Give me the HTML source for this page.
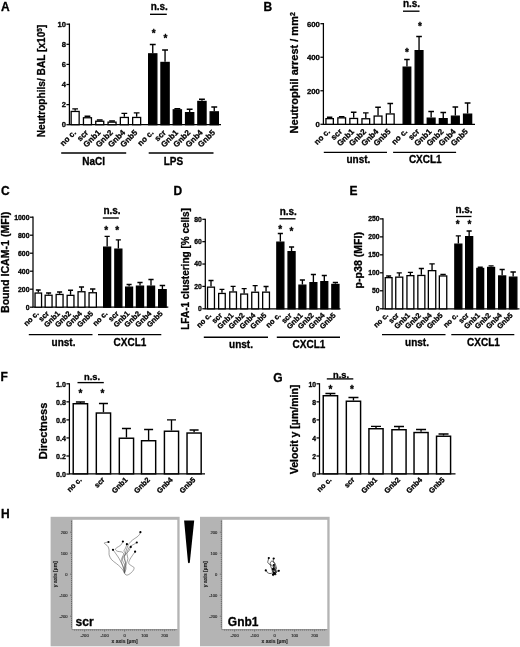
<!DOCTYPE html>
<html lang="en">
<head>
<meta charset="utf-8">
<title>Figure</title>
<style>
html,body{margin:0;padding:0;background:#fff;}
body{width:520px;height:647px;overflow:hidden;}
svg{display:block;}
.t{font-family:"Liberation Sans",Arial,Helvetica,sans-serif;font-weight:bold;fill:#000;stroke:#000;stroke-width:0.3px;stroke-linejoin:round;}
.s{font-family:"Liberation Sans",Arial,Helvetica,sans-serif;fill:#222;stroke:#222;stroke-width:0.12px;}
.ax{stroke:#000;stroke-width:1.25;fill:none;stroke-linecap:butt;}
.gl{stroke:#000;stroke-width:1.35;fill:none;}
.e{stroke:#000;stroke-width:1.35;fill:none;}
</style>
</head>
<body>
<svg width="520" height="647" viewBox="0 0 520 647">
<rect width="520" height="647" fill="#fff"/>
<text x="1" y="11.2" class="t" font-size="12">A</text>
<path d="M69.4 23.6V124.7H221" class="ax"/>
<path d="M66.4 24.2H69.4" class="ax"/>
<text x="65.9" y="26.94" class="t" font-size="7.6" text-anchor="end">10</text>
<path d="M66.4 44.3H69.4" class="ax"/>
<text x="65.9" y="47.04" class="t" font-size="7.6" text-anchor="end">8</text>
<path d="M66.4 64.4H69.4" class="ax"/>
<text x="65.9" y="67.14" class="t" font-size="7.6" text-anchor="end">6</text>
<path d="M66.4 84.5H69.4" class="ax"/>
<text x="65.9" y="87.24" class="t" font-size="7.6" text-anchor="end">4</text>
<path d="M66.4 104.6H69.4" class="ax"/>
<text x="65.9" y="107.34" class="t" font-size="7.6" text-anchor="end">2</text>
<path d="M66.4 124.7H69.4" class="ax"/>
<text x="65.9" y="127.44" class="t" font-size="7.6" text-anchor="end">0</text>
<text transform="translate(44.7 81) rotate(-90)" class="t" font-size="10.15" text-anchor="middle">Neutrophils/ BAL [x10<tspan font-size="6.5" dy="-3.2">5</tspan><tspan dy="3.2">]</tspan></text>
<path d="M75.15 110.8V108.8M72.27 108.8H78.03" class="e"/>
<rect x="71.15" y="111.45" width="8" height="13.25" fill="#fff" stroke="#000" stroke-width="1.3"/>
<path d="M87.45 117.1V116.2M84.57 116.2H90.33" class="e"/>
<rect x="83.45" y="117.75" width="8" height="6.95" fill="#fff" stroke="#000" stroke-width="1.3"/>
<path d="M99.75 120.6V120M96.87 120H102.63" class="e"/>
<rect x="95.75" y="121.25" width="8" height="3.45" fill="#fff" stroke="#000" stroke-width="1.3"/>
<path d="M112.05 121.5V121M109.17 121H114.93" class="e"/>
<rect x="108.05" y="122.15" width="8" height="2.55" fill="#fff" stroke="#000" stroke-width="1.3"/>
<path d="M124.35 116.8V113.4M121.47 113.4H127.23" class="e"/>
<rect x="120.35" y="117.45" width="8" height="7.25" fill="#fff" stroke="#000" stroke-width="1.3"/>
<path d="M136.65 116.8V112.8M133.77 112.8H139.53" class="e"/>
<rect x="132.65" y="117.45" width="8" height="7.25" fill="#fff" stroke="#000" stroke-width="1.3"/>
<path d="M152.75 53.2V44.5M149.81 44.5H155.69" class="e"/>
<rect x="148.65" y="53.85" width="8.2" height="70.85" fill="#000" stroke="#000" stroke-width="1.3"/>
<path d="M165.05 61.8V50M162.11 50H168" class="e"/>
<rect x="160.95" y="62.45" width="8.2" height="62.25" fill="#000" stroke="#000" stroke-width="1.3"/>
<path d="M177.35 109.2V108.7M174.41 108.7H180.29" class="e"/>
<rect x="173.25" y="109.85" width="8.2" height="14.85" fill="#000" stroke="#000" stroke-width="1.3"/>
<path d="M189.65 112V109.2M186.71 109.2H192.59" class="e"/>
<rect x="185.55" y="112.65" width="8.2" height="12.05" fill="#000" stroke="#000" stroke-width="1.3"/>
<path d="M201.95 100.8V99.2M199 99.2H204.89" class="e"/>
<rect x="197.85" y="101.45" width="8.2" height="23.25" fill="#000" stroke="#000" stroke-width="1.3"/>
<path d="M214.25 111.2V107M211.31 107H217.19" class="e"/>
<rect x="210.15" y="111.85" width="8.2" height="12.85" fill="#000" stroke="#000" stroke-width="1.3"/>
<text transform="translate(76.45 133.2) rotate(-45)" class="t" font-size="8" text-anchor="end">no c.</text>
<text transform="translate(88.75 133.2) rotate(-45)" class="t" font-size="8" text-anchor="end">scr</text>
<text transform="translate(101.05 133.2) rotate(-45)" class="t" font-size="8" text-anchor="end">Gnb1</text>
<text transform="translate(113.35 133.2) rotate(-45)" class="t" font-size="8" text-anchor="end">Gnb2</text>
<text transform="translate(125.65 133.2) rotate(-45)" class="t" font-size="8" text-anchor="end">Gnb4</text>
<text transform="translate(137.95 133.2) rotate(-45)" class="t" font-size="8" text-anchor="end">Gnb5</text>
<text transform="translate(154.05 133.2) rotate(-45)" class="t" font-size="8" text-anchor="end">no c.</text>
<text transform="translate(166.35 133.2) rotate(-45)" class="t" font-size="8" text-anchor="end">scr</text>
<text transform="translate(178.65 133.2) rotate(-45)" class="t" font-size="8" text-anchor="end">Gnb1</text>
<text transform="translate(190.95 133.2) rotate(-45)" class="t" font-size="8" text-anchor="end">Gnb2</text>
<text transform="translate(203.25 133.2) rotate(-45)" class="t" font-size="8" text-anchor="end">Gnb4</text>
<text transform="translate(215.55 133.2) rotate(-45)" class="t" font-size="8" text-anchor="end">Gnb5</text>
<path d="M61.2 153H126.2" class="gl"/>
<text x="93.6" y="164.8" class="t" font-size="10" text-anchor="middle">NaCl</text>
<path d="M148.7 153H213.5" class="gl"/>
<text x="173.5" y="164.8" class="t" font-size="10" text-anchor="middle">LPS</text>
<text x="159.3" y="10.2" class="t" font-size="10" text-anchor="middle">n.s.</text>
<path d="M150 14.3H166.8" class="gl"/>
<text x="153.8" y="37" class="t" font-size="10" text-anchor="middle">*</text>
<text x="165.5" y="42" class="t" font-size="10" text-anchor="middle">*</text>
<text x="263.5" y="11" class="t" font-size="12">B</text>
<path d="M323.4 23.1V124.3H475" class="ax"/>
<path d="M320.4 23.7H323.4" class="ax"/>
<text x="319.9" y="26.51" class="t" font-size="7.8" text-anchor="end">600</text>
<path d="M320.4 57.23H323.4" class="ax"/>
<text x="319.9" y="60.04" class="t" font-size="7.8" text-anchor="end">400</text>
<path d="M320.4 90.76H323.4" class="ax"/>
<text x="319.9" y="93.57" class="t" font-size="7.8" text-anchor="end">200</text>
<path d="M320.4 124.29H323.4" class="ax"/>
<text x="319.9" y="127.1" class="t" font-size="7.8" text-anchor="end">0</text>
<text transform="translate(297.8 72.8) rotate(-90)" class="t" font-size="11" text-anchor="middle">Neutrophil arrest / mm<tspan font-size="7" dy="-3.0">2</tspan></text>
<path d="M329.65 118V117.2M326.95 117.2H332.35" class="e"/>
<rect x="325.95" y="118.65" width="7.4" height="5.65" fill="#fff" stroke="#000" stroke-width="1.3"/>
<path d="M341.7 117.2V116.7M338.91 116.7H344.49" class="e"/>
<rect x="337.85" y="117.85" width="7.7" height="6.45" fill="#fff" stroke="#000" stroke-width="1.3"/>
<path d="M353.7 117.8V112.2M350.91 112.2H356.49" class="e"/>
<rect x="349.85" y="118.45" width="7.7" height="5.85" fill="#fff" stroke="#000" stroke-width="1.3"/>
<path d="M365.8 118.1V112.9M363.01 112.9H368.59" class="e"/>
<rect x="361.95" y="118.75" width="7.7" height="5.55" fill="#fff" stroke="#000" stroke-width="1.3"/>
<path d="M378.05 115.4V107.2M375.23 107.2H380.87" class="e"/>
<rect x="374.15" y="116.05" width="7.8" height="8.25" fill="#fff" stroke="#000" stroke-width="1.3"/>
<path d="M390.25 113.3V103.5M387.43 103.5H393.07" class="e"/>
<rect x="386.35" y="113.95" width="7.8" height="10.35" fill="#fff" stroke="#000" stroke-width="1.3"/>
<path d="M406.95 66.5V59.5M404.19 59.5H409.71" class="e"/>
<rect x="403.15" y="67.15" width="7.6" height="57.15" fill="#000" stroke="#000" stroke-width="1.3"/>
<path d="M419.05 50V36.5M416.23 36.5H421.87" class="e"/>
<rect x="415.15" y="50.65" width="7.8" height="73.65" fill="#000" stroke="#000" stroke-width="1.3"/>
<path d="M431.15 117.5V111.5M428.33 111.5H433.97" class="e"/>
<rect x="427.25" y="118.15" width="7.8" height="6.15" fill="#000" stroke="#000" stroke-width="1.3"/>
<path d="M443.25 118V112.5M440.43 112.5H446.07" class="e"/>
<rect x="439.35" y="118.65" width="7.8" height="5.65" fill="#000" stroke="#000" stroke-width="1.3"/>
<path d="M455.35 115.5V107M452.53 107H458.17" class="e"/>
<rect x="451.45" y="116.15" width="7.8" height="8.15" fill="#000" stroke="#000" stroke-width="1.3"/>
<path d="M467.6 113.5V103M464.69 103H470.51" class="e"/>
<rect x="463.55" y="114.15" width="8.1" height="10.15" fill="#000" stroke="#000" stroke-width="1.3"/>
<text transform="translate(330.55 132.1) rotate(-45)" class="t" font-size="8" text-anchor="end">no c.</text>
<text transform="translate(342.6 132.1) rotate(-45)" class="t" font-size="8" text-anchor="end">scr</text>
<text transform="translate(354.6 132.1) rotate(-45)" class="t" font-size="8" text-anchor="end">Gnb1</text>
<text transform="translate(366.7 132.1) rotate(-45)" class="t" font-size="8" text-anchor="end">Gnb2</text>
<text transform="translate(378.95 132.1) rotate(-45)" class="t" font-size="8" text-anchor="end">Gnb4</text>
<text transform="translate(391.15 132.1) rotate(-45)" class="t" font-size="8" text-anchor="end">Gnb5</text>
<text transform="translate(407.85 132.1) rotate(-45)" class="t" font-size="8" text-anchor="end">no c.</text>
<text transform="translate(419.95 132.1) rotate(-45)" class="t" font-size="8" text-anchor="end">scr</text>
<text transform="translate(432.05 132.1) rotate(-45)" class="t" font-size="8" text-anchor="end">Gnb1</text>
<text transform="translate(444.15 132.1) rotate(-45)" class="t" font-size="8" text-anchor="end">Gnb2</text>
<text transform="translate(456.25 132.1) rotate(-45)" class="t" font-size="8" text-anchor="end">Gnb4</text>
<text transform="translate(468.5 132.1) rotate(-45)" class="t" font-size="8" text-anchor="end">Gnb5</text>
<path d="M323.8 152.3H387" class="gl"/>
<text x="358.4" y="163.4" class="t" font-size="10" text-anchor="middle">unst.</text>
<path d="M393.1 152.3H456.1" class="gl"/>
<text x="425.3" y="163.4" class="t" font-size="10" text-anchor="middle">CXCL1</text>
<text x="411.5" y="7" class="t" font-size="10" text-anchor="middle">n.s.</text>
<path d="M403 11.2H419.5" class="gl"/>
<text x="407" y="55.5" class="t" font-size="10" text-anchor="middle">*</text>
<text x="420" y="29.5" class="t" font-size="10" text-anchor="middle">*</text>
<text x="1" y="195.3" class="t" font-size="12">C</text>
<path d="M33 216.6V307.2H168.3" class="ax"/>
<path d="M30 217.2H33" class="ax"/>
<text x="29.5" y="219.68" class="t" font-size="6.9" text-anchor="end">1000</text>
<path d="M30 235.2H33" class="ax"/>
<text x="29.5" y="237.68" class="t" font-size="6.9" text-anchor="end">800</text>
<path d="M30 253.2H33" class="ax"/>
<text x="29.5" y="255.68" class="t" font-size="6.9" text-anchor="end">600</text>
<path d="M30 271.2H33" class="ax"/>
<text x="29.5" y="273.68" class="t" font-size="6.9" text-anchor="end">400</text>
<path d="M30 289.2H33" class="ax"/>
<text x="29.5" y="291.68" class="t" font-size="6.9" text-anchor="end">200</text>
<path d="M30 307.2H33" class="ax"/>
<text x="29.5" y="309.68" class="t" font-size="6.9" text-anchor="end">0</text>
<text transform="translate(8.6 262.4) rotate(-90)" class="t" font-size="10.6" text-anchor="middle">Bound ICAM-1 (MFI)</text>
<path d="M38.3 292.4V290M35.88 290H40.72" class="e"/>
<rect x="35.05" y="293.05" width="6.5" height="14.15" fill="#fff" stroke="#000" stroke-width="1.3"/>
<path d="M48.6 294.6V293M46.06 293H51.14" class="e"/>
<rect x="45.15" y="295.25" width="6.9" height="11.95" fill="#fff" stroke="#000" stroke-width="1.3"/>
<path d="M59.6 293.8V292M57.06 292H62.14" class="e"/>
<rect x="56.15" y="294.45" width="6.9" height="12.75" fill="#fff" stroke="#000" stroke-width="1.3"/>
<path d="M70.55 294.7V290.2M68.04 290.2H73.06" class="e"/>
<rect x="67.15" y="295.35" width="6.8" height="11.85" fill="#fff" stroke="#000" stroke-width="1.3"/>
<path d="M81.5 291.1V287M78.96 287H84.04" class="e"/>
<rect x="78.05" y="291.75" width="6.9" height="15.45" fill="#fff" stroke="#000" stroke-width="1.3"/>
<path d="M92.7 292.1V289M90.03 289H95.37" class="e"/>
<rect x="89.05" y="292.75" width="7.3" height="14.45" fill="#fff" stroke="#000" stroke-width="1.3"/>
<path d="M107.15 246.5V236.3M104.58 236.3H109.72" class="e"/>
<rect x="103.65" y="247.15" width="7" height="60.05" fill="#000" stroke="#000" stroke-width="1.3"/>
<path d="M118.35 248.5V239.8M115.78 239.8H120.92" class="e"/>
<rect x="114.85" y="249.15" width="7" height="58.05" fill="#000" stroke="#000" stroke-width="1.3"/>
<path d="M129.1 286.5V284.5M126.56 284.5H131.64" class="e"/>
<rect x="125.65" y="287.15" width="6.9" height="20.05" fill="#000" stroke="#000" stroke-width="1.3"/>
<path d="M140 285.5V282.5M137.4 282.5H142.6" class="e"/>
<rect x="136.45" y="286.15" width="7.1" height="21.05" fill="#000" stroke="#000" stroke-width="1.3"/>
<path d="M151 285.5V279.5M148.4 279.5H153.6" class="e"/>
<rect x="147.45" y="286.15" width="7.1" height="21.05" fill="#000" stroke="#000" stroke-width="1.3"/>
<path d="M162.4 289V285.5M159.67 285.5H165.13" class="e"/>
<rect x="158.65" y="289.65" width="7.5" height="17.55" fill="#000" stroke="#000" stroke-width="1.3"/>
<text transform="translate(39.2 314.1) rotate(-45)" class="t" font-size="7.5" text-anchor="end">no c.</text>
<text transform="translate(49.5 314.1) rotate(-45)" class="t" font-size="7.5" text-anchor="end">scr</text>
<text transform="translate(60.5 314.1) rotate(-45)" class="t" font-size="7.5" text-anchor="end">Gnb1</text>
<text transform="translate(71.45 314.1) rotate(-45)" class="t" font-size="7.5" text-anchor="end">Gnb2</text>
<text transform="translate(82.4 314.1) rotate(-45)" class="t" font-size="7.5" text-anchor="end">Gnb4</text>
<text transform="translate(93.6 314.1) rotate(-45)" class="t" font-size="7.5" text-anchor="end">Gnb5</text>
<text transform="translate(108.05 314.1) rotate(-45)" class="t" font-size="7.5" text-anchor="end">no c.</text>
<text transform="translate(119.25 314.1) rotate(-45)" class="t" font-size="7.5" text-anchor="end">scr</text>
<text transform="translate(130 314.1) rotate(-45)" class="t" font-size="7.5" text-anchor="end">Gnb1</text>
<text transform="translate(140.9 314.1) rotate(-45)" class="t" font-size="7.5" text-anchor="end">Gnb2</text>
<text transform="translate(151.9 314.1) rotate(-45)" class="t" font-size="7.5" text-anchor="end">Gnb4</text>
<text transform="translate(163.3 314.1) rotate(-45)" class="t" font-size="7.5" text-anchor="end">Gnb5</text>
<path d="M28.8 334.6H92.5" class="gl"/>
<text x="63.5" y="345.7" class="t" font-size="10" text-anchor="middle">unst.</text>
<path d="M98 334.6H161.3" class="gl"/>
<text x="130" y="345.7" class="t" font-size="10" text-anchor="middle">CXCL1</text>
<text x="112" y="214.2" class="t" font-size="10" text-anchor="middle">n.s.</text>
<path d="M102.8 218H118.8" class="gl"/>
<text x="106.3" y="234" class="t" font-size="10" text-anchor="middle">*</text>
<text x="117.2" y="234" class="t" font-size="10" text-anchor="middle">*</text>
<text x="173.5" y="195.3" class="t" font-size="12">D</text>
<path d="M205.3 218.7V308.8H340.5" class="ax"/>
<path d="M202.3 219.3H205.3" class="ax"/>
<text x="201.8" y="221.75" class="t" font-size="6.8" text-anchor="end">80</text>
<path d="M202.3 241.67H205.3" class="ax"/>
<text x="201.8" y="244.12" class="t" font-size="6.8" text-anchor="end">60</text>
<path d="M202.3 264.04H205.3" class="ax"/>
<text x="201.8" y="266.49" class="t" font-size="6.8" text-anchor="end">40</text>
<path d="M202.3 286.41H205.3" class="ax"/>
<text x="201.8" y="288.86" class="t" font-size="6.8" text-anchor="end">20</text>
<path d="M202.3 308.78H205.3" class="ax"/>
<text x="201.8" y="311.23" class="t" font-size="6.8" text-anchor="end">0</text>
<text transform="translate(188.8 268.9) rotate(-90)" class="t" font-size="10" text-anchor="middle">LFA-1 clustering [% cells]</text>
<path d="M211 286.5V280.5M208.46 280.5H213.54" class="e"/>
<rect x="207.55" y="287.15" width="6.9" height="21.65" fill="#fff" stroke="#000" stroke-width="1.3"/>
<path d="M221.95 292.8V289.3M219.5 289.3H224.4" class="e"/>
<rect x="218.65" y="293.45" width="6.6" height="15.35" fill="#fff" stroke="#000" stroke-width="1.3"/>
<path d="M233.1 291.3V286.3M230.62 286.3H235.58" class="e"/>
<rect x="229.75" y="291.95" width="6.7" height="16.85" fill="#fff" stroke="#000" stroke-width="1.3"/>
<path d="M244.15 293.4V288.6M241.64 288.6H246.66" class="e"/>
<rect x="240.75" y="294.05" width="6.8" height="14.75" fill="#fff" stroke="#000" stroke-width="1.3"/>
<path d="M255.15 291.6V285.6M252.64 285.6H257.66" class="e"/>
<rect x="251.75" y="292.25" width="6.8" height="16.55" fill="#fff" stroke="#000" stroke-width="1.3"/>
<path d="M266.05 291.5V286.5M263.54 286.5H268.56" class="e"/>
<rect x="262.65" y="292.15" width="6.8" height="16.65" fill="#fff" stroke="#000" stroke-width="1.3"/>
<path d="M280.35 241.5V233.5M277.78 233.5H282.92" class="e"/>
<rect x="276.85" y="242.15" width="7" height="66.65" fill="#000" stroke="#000" stroke-width="1.3"/>
<path d="M291.55 251V247M288.98 247H294.12" class="e"/>
<rect x="288.05" y="251.65" width="7" height="57.15" fill="#000" stroke="#000" stroke-width="1.3"/>
<path d="M302.4 284.5V280M299.86 280H304.94" class="e"/>
<rect x="298.95" y="285.15" width="6.9" height="23.65" fill="#000" stroke="#000" stroke-width="1.3"/>
<path d="M313.4 282V274.5M310.86 274.5H315.94" class="e"/>
<rect x="309.95" y="282.65" width="6.9" height="26.15" fill="#000" stroke="#000" stroke-width="1.3"/>
<path d="M324.3 281V275.5M321.76 275.5H326.84" class="e"/>
<rect x="320.85" y="281.65" width="6.9" height="27.15" fill="#000" stroke="#000" stroke-width="1.3"/>
<path d="M335.4 283.8V282.5M332.8 282.5H338" class="e"/>
<rect x="331.85" y="284.45" width="7.1" height="24.35" fill="#000" stroke="#000" stroke-width="1.3"/>
<text transform="translate(211.8 315.9) rotate(-45)" class="t" font-size="7.5" text-anchor="end">no c.</text>
<text transform="translate(222.75 315.9) rotate(-45)" class="t" font-size="7.5" text-anchor="end">scr</text>
<text transform="translate(233.9 315.9) rotate(-45)" class="t" font-size="7.5" text-anchor="end">Gnb1</text>
<text transform="translate(244.95 315.9) rotate(-45)" class="t" font-size="7.5" text-anchor="end">Gnb2</text>
<text transform="translate(255.95 315.9) rotate(-45)" class="t" font-size="7.5" text-anchor="end">Gnb4</text>
<text transform="translate(266.85 315.9) rotate(-45)" class="t" font-size="7.5" text-anchor="end">Gnb5</text>
<text transform="translate(281.15 315.9) rotate(-45)" class="t" font-size="7.5" text-anchor="end">no c.</text>
<text transform="translate(292.35 315.9) rotate(-45)" class="t" font-size="7.5" text-anchor="end">scr</text>
<text transform="translate(303.2 315.9) rotate(-45)" class="t" font-size="7.5" text-anchor="end">Gnb1</text>
<text transform="translate(314.2 315.9) rotate(-45)" class="t" font-size="7.5" text-anchor="end">Gnb2</text>
<text transform="translate(325.1 315.9) rotate(-45)" class="t" font-size="7.5" text-anchor="end">Gnb4</text>
<text transform="translate(336.2 315.9) rotate(-45)" class="t" font-size="7.5" text-anchor="end">Gnb5</text>
<path d="M203.8 337.2H268" class="gl"/>
<text x="241" y="348.2" class="t" font-size="10" text-anchor="middle">unst.</text>
<path d="M276.8 337.2H340" class="gl"/>
<text x="309" y="348.2" class="t" font-size="10" text-anchor="middle">CXCL1</text>
<text x="288.3" y="215" class="t" font-size="10" text-anchor="middle">n.s.</text>
<path d="M279.5 218.8H295.5" class="gl"/>
<text x="280.3" y="232.6" class="t" font-size="10" text-anchor="middle">*</text>
<text x="291.5" y="234.8" class="t" font-size="10" text-anchor="middle">*</text>
<text x="349.5" y="195.3" class="t" font-size="12">E</text>
<path d="M383 218.3V308.8H519.5" class="ax"/>
<path d="M380 218.9H383" class="ax"/>
<text x="379.5" y="221.35" class="t" font-size="6.8" text-anchor="end">250</text>
<path d="M380 236.87H383" class="ax"/>
<text x="379.5" y="239.32" class="t" font-size="6.8" text-anchor="end">200</text>
<path d="M380 254.84H383" class="ax"/>
<text x="379.5" y="257.29" class="t" font-size="6.8" text-anchor="end">150</text>
<path d="M380 272.81H383" class="ax"/>
<text x="379.5" y="275.26" class="t" font-size="6.8" text-anchor="end">100</text>
<path d="M380 290.78H383" class="ax"/>
<text x="379.5" y="293.23" class="t" font-size="6.8" text-anchor="end">50</text>
<path d="M380 308.75H383" class="ax"/>
<text x="379.5" y="311.2" class="t" font-size="6.8" text-anchor="end">0</text>
<text transform="translate(362 260.2) rotate(-90)" class="t" font-size="10.6" text-anchor="middle">p-p38 (MFI)</text>
<path d="M388.65 277V276M386.14 276H391.16" class="e"/>
<rect x="385.25" y="277.65" width="6.8" height="31.15" fill="#fff" stroke="#000" stroke-width="1.3"/>
<path d="M399.25 276.5V272.8M396.68 272.8H401.82" class="e"/>
<rect x="395.75" y="277.15" width="7" height="31.65" fill="#fff" stroke="#000" stroke-width="1.3"/>
<path d="M410.4 275V272.3M407.86 272.3H412.94" class="e"/>
<rect x="406.95" y="275.65" width="6.9" height="33.15" fill="#fff" stroke="#000" stroke-width="1.3"/>
<path d="M421.35 274.8V268.5M418.78 268.5H423.92" class="e"/>
<rect x="417.85" y="275.45" width="7" height="33.35" fill="#fff" stroke="#000" stroke-width="1.3"/>
<path d="M432.05 270V263.8M429.35 263.8H434.75" class="e"/>
<rect x="428.35" y="270.65" width="7.4" height="38.15" fill="#fff" stroke="#000" stroke-width="1.3"/>
<path d="M443.05 275.3V274.3M440.35 274.3H445.75" class="e"/>
<rect x="439.35" y="275.95" width="7.4" height="32.85" fill="#fff" stroke="#000" stroke-width="1.3"/>
<path d="M458.35 243.5V235.8M455.78 235.8H460.92" class="e"/>
<rect x="454.85" y="244.15" width="7" height="64.65" fill="#000" stroke="#000" stroke-width="1.3"/>
<path d="M469.15 236V231M466.58 231H471.72" class="e"/>
<rect x="465.65" y="236.65" width="7" height="72.15" fill="#000" stroke="#000" stroke-width="1.3"/>
<path d="M480.25 267.8V267.2M477.74 267.2H482.76" class="e"/>
<rect x="476.85" y="268.45" width="6.8" height="40.35" fill="#000" stroke="#000" stroke-width="1.3"/>
<path d="M491.1 266.8V265.8M488.56 265.8H493.64" class="e"/>
<rect x="487.65" y="267.45" width="6.9" height="41.35" fill="#000" stroke="#000" stroke-width="1.3"/>
<path d="M502.15 275.3V269.5M499.58 269.5H504.72" class="e"/>
<rect x="498.65" y="275.95" width="7" height="32.85" fill="#000" stroke="#000" stroke-width="1.3"/>
<path d="M513.15 276.5V272M510.45 272H515.85" class="e"/>
<rect x="509.45" y="277.15" width="7.4" height="31.65" fill="#000" stroke="#000" stroke-width="1.3"/>
<text transform="translate(388.75 315.9) rotate(-45)" class="t" font-size="7.4" text-anchor="end">no c.</text>
<text transform="translate(399.35 315.9) rotate(-45)" class="t" font-size="7.4" text-anchor="end">scr</text>
<text transform="translate(410.5 315.9) rotate(-45)" class="t" font-size="7.4" text-anchor="end">Gnb1</text>
<text transform="translate(421.45 315.9) rotate(-45)" class="t" font-size="7.4" text-anchor="end">Gnb2</text>
<text transform="translate(432.15 315.9) rotate(-45)" class="t" font-size="7.4" text-anchor="end">Gnb4</text>
<text transform="translate(443.15 315.9) rotate(-45)" class="t" font-size="7.4" text-anchor="end">Gnb5</text>
<text transform="translate(458.45 315.9) rotate(-45)" class="t" font-size="7.4" text-anchor="end">no c.</text>
<text transform="translate(469.25 315.9) rotate(-45)" class="t" font-size="7.4" text-anchor="end">scr</text>
<text transform="translate(480.35 315.9) rotate(-45)" class="t" font-size="7.4" text-anchor="end">Gnb1</text>
<text transform="translate(491.2 315.9) rotate(-45)" class="t" font-size="7.4" text-anchor="end">Gnb2</text>
<text transform="translate(502.25 315.9) rotate(-45)" class="t" font-size="7.4" text-anchor="end">Gnb4</text>
<text transform="translate(513.25 315.9) rotate(-45)" class="t" font-size="7.4" text-anchor="end">Gnb5</text>
<path d="M382 334.6H445.5" class="gl"/>
<text x="417" y="345.7" class="t" font-size="10" text-anchor="middle">unst.</text>
<path d="M451.3 334.6H514.3" class="gl"/>
<text x="483.5" y="345.7" class="t" font-size="10" text-anchor="middle">CXCL1</text>
<text x="464" y="213" class="t" font-size="10" text-anchor="middle">n.s.</text>
<path d="M456 216.5H471.5" class="gl"/>
<text x="457.8" y="227.5" class="t" font-size="10" text-anchor="middle">*</text>
<text x="469.5" y="227.5" class="t" font-size="10" text-anchor="middle">*</text>
<text x="0.5" y="381.3" class="t" font-size="12">F</text>
<path d="M69.4 383.2V473.8H205" class="ax"/>
<path d="M66.4 383.8H69.4" class="ax"/>
<text x="65.9" y="386.66" class="t" font-size="7.1" text-anchor="end">1.0</text>
<path d="M66.4 401.85H69.4" class="ax"/>
<text x="65.9" y="404.71" class="t" font-size="7.1" text-anchor="end">0.8</text>
<path d="M66.4 419.9H69.4" class="ax"/>
<text x="65.9" y="422.76" class="t" font-size="7.1" text-anchor="end">0.6</text>
<path d="M66.4 437.95H69.4" class="ax"/>
<text x="65.9" y="440.81" class="t" font-size="7.1" text-anchor="end">0.4</text>
<path d="M66.4 456H69.4" class="ax"/>
<text x="65.9" y="458.86" class="t" font-size="7.1" text-anchor="end">0.2</text>
<path d="M66.4 474.05H69.4" class="ax"/>
<text x="65.9" y="476.91" class="t" font-size="7.1" text-anchor="end">0.0</text>
<text transform="translate(47.3 431) rotate(-90)" class="t" font-size="11.1" text-anchor="middle">Directness</text>
<path d="M80.4 403V402M75.9 402H84.9" class="e"/>
<rect x="73.22" y="403.73" width="14.35" height="70.08" fill="#fff" stroke="#000" stroke-width="1.45"/>
<path d="M103.45 412.3V403.5M98.95 403.5H107.95" class="e"/>
<rect x="96.32" y="413.03" width="14.25" height="60.77" fill="#fff" stroke="#000" stroke-width="1.45"/>
<path d="M126.45 437.5V428.5M121.95 428.5H130.95" class="e"/>
<rect x="119.32" y="438.23" width="14.25" height="35.58" fill="#fff" stroke="#000" stroke-width="1.45"/>
<path d="M148.6 440V429.5M144.1 429.5H153.1" class="e"/>
<rect x="141.53" y="440.73" width="14.15" height="33.08" fill="#fff" stroke="#000" stroke-width="1.45"/>
<path d="M171.5 430.5V419.8M167 419.8H176" class="e"/>
<rect x="164.42" y="431.23" width="14.15" height="42.58" fill="#fff" stroke="#000" stroke-width="1.45"/>
<path d="M194.1 432.3V430M189.6 430H198.6" class="e"/>
<rect x="187.03" y="433.03" width="14.15" height="40.77" fill="#fff" stroke="#000" stroke-width="1.45"/>
<text transform="translate(82.1 480.3) rotate(-45)" class="t" font-size="7.4" text-anchor="end">no c.</text>
<text transform="translate(105.15 480.3) rotate(-45)" class="t" font-size="7.4" text-anchor="end">scr</text>
<text transform="translate(128.15 480.3) rotate(-45)" class="t" font-size="7.4" text-anchor="end">Gnb1</text>
<text transform="translate(150.3 480.3) rotate(-45)" class="t" font-size="7.4" text-anchor="end">Gnb2</text>
<text transform="translate(173.2 480.3) rotate(-45)" class="t" font-size="7.4" text-anchor="end">Gnb4</text>
<text transform="translate(195.8 480.3) rotate(-45)" class="t" font-size="7.4" text-anchor="end">Gnb5</text>
<text x="92" y="380.2" class="t" font-size="9.4" text-anchor="middle">n.s.</text>
<path d="M77.5 382.6H103.8" class="gl"/>
<text x="80.5" y="396.5" class="t" font-size="10" text-anchor="middle">*</text>
<text x="102.5" y="396.5" class="t" font-size="10" text-anchor="middle">*</text>
<text x="273.2" y="381.5" class="t" font-size="12">G</text>
<path d="M319.5 383.2V473.8H455.5" class="ax"/>
<path d="M316.5 383.8H319.5" class="ax"/>
<text x="316" y="386.75" class="t" font-size="6.8" text-anchor="end">10</text>
<path d="M316.5 401.85H319.5" class="ax"/>
<text x="316" y="404.8" class="t" font-size="6.8" text-anchor="end">8</text>
<path d="M316.5 419.9H319.5" class="ax"/>
<text x="316" y="422.85" class="t" font-size="6.8" text-anchor="end">6</text>
<path d="M316.5 437.95H319.5" class="ax"/>
<text x="316" y="440.9" class="t" font-size="6.8" text-anchor="end">4</text>
<path d="M316.5 456H319.5" class="ax"/>
<text x="316" y="458.95" class="t" font-size="6.8" text-anchor="end">2</text>
<path d="M316.5 474.05H319.5" class="ax"/>
<text x="316" y="477" class="t" font-size="6.8" text-anchor="end">0</text>
<text transform="translate(297.5 429.4) rotate(-90)" class="t" font-size="10.5" text-anchor="middle">Velocit y [µm/min]</text>
<path d="M330.4 395V393.5M325.4 393.5H335.4" class="e"/>
<rect x="323.23" y="395.73" width="14.35" height="78.08" fill="#fff" stroke="#000" stroke-width="1.45"/>
<path d="M353.45 400.5V397.5M348.45 397.5H358.45" class="e"/>
<rect x="346.33" y="401.23" width="14.25" height="72.58" fill="#fff" stroke="#000" stroke-width="1.45"/>
<path d="M376 428V426.3M371 426.3H381" class="e"/>
<rect x="368.93" y="428.73" width="14.15" height="45.08" fill="#fff" stroke="#000" stroke-width="1.45"/>
<path d="M399 429V426.5M394 426.5H404" class="e"/>
<rect x="391.93" y="429.73" width="14.15" height="44.08" fill="#fff" stroke="#000" stroke-width="1.45"/>
<path d="M421.05 431.8V429.5M416.05 429.5H426.05" class="e"/>
<rect x="414.03" y="432.53" width="14.05" height="41.27" fill="#fff" stroke="#000" stroke-width="1.45"/>
<path d="M443.55 435.5V434M438.55 434H448.55" class="e"/>
<rect x="436.53" y="436.23" width="14.05" height="37.58" fill="#fff" stroke="#000" stroke-width="1.45"/>
<text transform="translate(332 480.3) rotate(-45)" class="t" font-size="7.4" text-anchor="end">no c.</text>
<text transform="translate(355.05 480.3) rotate(-45)" class="t" font-size="7.4" text-anchor="end">scr</text>
<text transform="translate(377.6 480.3) rotate(-45)" class="t" font-size="7.4" text-anchor="end">Gnb1</text>
<text transform="translate(400.6 480.3) rotate(-45)" class="t" font-size="7.4" text-anchor="end">Gnb2</text>
<text transform="translate(422.65 480.3) rotate(-45)" class="t" font-size="7.4" text-anchor="end">Gnb4</text>
<text transform="translate(445.15 480.3) rotate(-45)" class="t" font-size="7.4" text-anchor="end">Gnb5</text>
<text x="341.1" y="377.6" class="t" font-size="9.3" text-anchor="middle">n.s.</text>
<path d="M326.8 378.9H353.3" class="gl"/>
<text x="330.5" y="392.5" class="t" font-size="10" text-anchor="middle">*</text>
<text x="352" y="392.5" class="t" font-size="10" text-anchor="middle">*</text>
<text x="1" y="518.3" class="t" font-size="12">H</text>
<rect x="50.6" y="516.8" width="129" height="129.5" fill="#b4b4b4"/>
<rect x="72" y="519.8" width="105.3" height="109.8" fill="#fff"/>
<path d="M72 519.8V629.6H177.3" stroke="#555" stroke-width="0.6" fill="none"/>
<path d="M71 626.7H72M71 624.6H72M71 622.5H72M71 620.4H72M71 618.3H72M70 616.2H72M71 614.1H72M71 612H72M71 609.9H72M71 607.8H72M71 605.7H72M71 603.6H72M71 601.5H72M71 599.4H72M71 597.3H72M70 595.2H72M71 593.1H72M71 591H72M71 588.9H72M71 586.8H72M71 584.7H72M71 582.6H72M71 580.5H72M71 578.4H72M71 576.3H72M70 574.2H72M71 572.1H72M71 570H72M71 567.9H72M71 565.8H72M71 563.7H72M71 561.6H72M71 559.5H72M71 557.4H72M71 555.3H72M70 553.2H72M71 551.1H72M71 549H72M71 546.9H72M71 544.8H72M71 542.7H72M71 540.6H72M71 538.5H72M71 536.4H72M71 534.3H72M70 532.2H72M71 530.1H72M71 528H72M71 525.9H72M71 523.8H72M71 521.7H72M74.6 629.6V630.6M76.6 629.6V630.6M78.6 629.6V630.6M80.6 629.6V630.6M82.6 629.6V630.6M84.6 629.6V631.6M86.6 629.6V630.6M88.6 629.6V630.6M90.6 629.6V630.6M92.6 629.6V630.6M94.6 629.6V630.6M96.6 629.6V630.6M98.6 629.6V630.6M100.6 629.6V630.6M102.6 629.6V630.6M104.6 629.6V631.6M106.6 629.6V630.6M108.6 629.6V630.6M110.6 629.6V630.6M112.6 629.6V630.6M114.6 629.6V630.6M116.6 629.6V630.6M118.6 629.6V630.6M120.6 629.6V630.6M122.6 629.6V630.6M124.6 629.6V631.6M126.6 629.6V630.6M128.6 629.6V630.6M130.6 629.6V630.6M132.6 629.6V630.6M134.6 629.6V630.6M136.6 629.6V630.6M138.6 629.6V630.6M140.6 629.6V630.6M142.6 629.6V630.6M144.6 629.6V631.6M146.6 629.6V630.6M148.6 629.6V630.6M150.6 629.6V630.6M152.6 629.6V630.6M154.6 629.6V630.6M156.6 629.6V630.6M158.6 629.6V630.6M160.6 629.6V630.6M162.6 629.6V630.6M164.6 629.6V631.6M166.6 629.6V630.6M168.6 629.6V630.6M170.6 629.6V630.6M172.6 629.6V630.6M174.6 629.6V630.6" stroke="#333" stroke-width="0.5" fill="none"/>
<text x="67.6" y="533.7" class="s" font-size="4.1" text-anchor="end">200</text>
<text x="164.6" y="636.8" class="s" font-size="4.1" text-anchor="middle">200</text>
<text x="67.6" y="554.7" class="s" font-size="4.1" text-anchor="end">100</text>
<text x="144.6" y="636.8" class="s" font-size="4.1" text-anchor="middle">100</text>
<text x="67.6" y="575.7" class="s" font-size="4.1" text-anchor="end">0</text>
<text x="124.6" y="636.8" class="s" font-size="4.1" text-anchor="middle">0</text>
<text x="67.6" y="596.7" class="s" font-size="4.1" text-anchor="end">-100</text>
<text x="104.6" y="636.8" class="s" font-size="4.1" text-anchor="middle">-100</text>
<text x="67.6" y="617.7" class="s" font-size="4.1" text-anchor="end">-200</text>
<text x="84.6" y="636.8" class="s" font-size="4.1" text-anchor="middle">-200</text>
<text x="124.6" y="642.8" class="s" font-size="5" font-weight="bold" text-anchor="middle">x axis [µm]</text>
<text transform="translate(57.4 574.2) rotate(-90)" class="s" font-size="5" font-weight="bold" text-anchor="middle">y axis [µm]</text>
<text x="75.6" y="625.6" class="t" font-size="12">scr</text>
<rect x="200" y="516.8" width="129.6" height="129.5" fill="#b4b4b4"/>
<rect x="221.8" y="519.8" width="105.5" height="109.8" fill="#fff"/>
<path d="M221.8 519.8V629.6H327.3" stroke="#555" stroke-width="0.6" fill="none"/>
<path d="M220.8 626.7H221.8M220.8 624.6H221.8M220.8 622.5H221.8M220.8 620.4H221.8M220.8 618.3H221.8M219.8 616.2H221.8M220.8 614.1H221.8M220.8 612H221.8M220.8 609.9H221.8M220.8 607.8H221.8M220.8 605.7H221.8M220.8 603.6H221.8M220.8 601.5H221.8M220.8 599.4H221.8M220.8 597.3H221.8M219.8 595.2H221.8M220.8 593.1H221.8M220.8 591H221.8M220.8 588.9H221.8M220.8 586.8H221.8M220.8 584.7H221.8M220.8 582.6H221.8M220.8 580.5H221.8M220.8 578.4H221.8M220.8 576.3H221.8M219.8 574.2H221.8M220.8 572.1H221.8M220.8 570H221.8M220.8 567.9H221.8M220.8 565.8H221.8M220.8 563.7H221.8M220.8 561.6H221.8M220.8 559.5H221.8M220.8 557.4H221.8M220.8 555.3H221.8M219.8 553.2H221.8M220.8 551.1H221.8M220.8 549H221.8M220.8 546.9H221.8M220.8 544.8H221.8M220.8 542.7H221.8M220.8 540.6H221.8M220.8 538.5H221.8M220.8 536.4H221.8M220.8 534.3H221.8M219.8 532.2H221.8M220.8 530.1H221.8M220.8 528H221.8M220.8 525.9H221.8M220.8 523.8H221.8M220.8 521.7H221.8M224.6 629.6V630.6M226.6 629.6V630.6M228.6 629.6V630.6M230.6 629.6V630.6M232.6 629.6V630.6M234.6 629.6V631.6M236.6 629.6V630.6M238.6 629.6V630.6M240.6 629.6V630.6M242.6 629.6V630.6M244.6 629.6V630.6M246.6 629.6V630.6M248.6 629.6V630.6M250.6 629.6V630.6M252.6 629.6V630.6M254.6 629.6V631.6M256.6 629.6V630.6M258.6 629.6V630.6M260.6 629.6V630.6M262.6 629.6V630.6M264.6 629.6V630.6M266.6 629.6V630.6M268.6 629.6V630.6M270.6 629.6V630.6M272.6 629.6V630.6M274.6 629.6V631.6M276.6 629.6V630.6M278.6 629.6V630.6M280.6 629.6V630.6M282.6 629.6V630.6M284.6 629.6V630.6M286.6 629.6V630.6M288.6 629.6V630.6M290.6 629.6V630.6M292.6 629.6V630.6M294.6 629.6V631.6M296.6 629.6V630.6M298.6 629.6V630.6M300.6 629.6V630.6M302.6 629.6V630.6M304.6 629.6V630.6M306.6 629.6V630.6M308.6 629.6V630.6M310.6 629.6V630.6M312.6 629.6V630.6M314.6 629.6V631.6M316.6 629.6V630.6M318.6 629.6V630.6M320.6 629.6V630.6M322.6 629.6V630.6M324.6 629.6V630.6" stroke="#333" stroke-width="0.5" fill="none"/>
<text x="217.4" y="533.7" class="s" font-size="4.1" text-anchor="end">200</text>
<text x="314.6" y="636.8" class="s" font-size="4.1" text-anchor="middle">200</text>
<text x="217.4" y="554.7" class="s" font-size="4.1" text-anchor="end">100</text>
<text x="294.6" y="636.8" class="s" font-size="4.1" text-anchor="middle">100</text>
<text x="217.4" y="575.7" class="s" font-size="4.1" text-anchor="end">0</text>
<text x="274.6" y="636.8" class="s" font-size="4.1" text-anchor="middle">0</text>
<text x="217.4" y="596.7" class="s" font-size="4.1" text-anchor="end">-100</text>
<text x="254.6" y="636.8" class="s" font-size="4.1" text-anchor="middle">-100</text>
<text x="217.4" y="617.7" class="s" font-size="4.1" text-anchor="end">-200</text>
<text x="234.6" y="636.8" class="s" font-size="4.1" text-anchor="middle">-200</text>
<text x="274.6" y="642.8" class="s" font-size="5" font-weight="bold" text-anchor="middle">x axis [µm]</text>
<text transform="translate(206.8 574.2) rotate(-90)" class="s" font-size="5" font-weight="bold" text-anchor="middle">y axis [µm]</text>
<text x="227.8" y="625.6" class="t" font-size="12">Gnb1</text>
<path d="M184.1 520.5H194.2L189.8 562.6Q188.9 564 188 562.6z" fill="#000"/>
<path d="M124.5 573.1C124.5 572.3 124.33 569.9 124.5 568.3C124.67 566.7 125.5 565.43 125.5 563.5C125.5 561.57 124.42 558.78 124.5 556.7C124.58 554.62 125.52 552.6 126 551C126.48 549.4 126.85 548.38 127.4 547.1C127.95 545.82 128.42 544.5 129.3 543.3C130.18 542.1 131.42 540.95 132.7 539.9C133.98 538.85 135.88 537.88 137 537C138.12 536.12 138.83 535.4 139.4 534.6C139.97 533.8 140.23 532.6 140.4 532.2" stroke="#555" stroke-width="0.55" fill="none"/>
<circle cx="140.4" cy="532.2" r="1.1" fill="#000"/>
<path d="M124.5 573.1C124.35 572.78 124.23 572.17 123.6 571.2C122.97 570.23 121.92 568.58 120.7 567.3C119.48 566.02 117.83 564.78 116.3 563.5C114.77 562.22 112.7 561.05 111.5 559.6C110.3 558.15 109.5 556.4 109.1 554.8C108.7 553.2 109.33 551.43 109.1 550C108.87 548.57 108.5 547.32 107.7 546.2C106.9 545.08 104.7 543.9 104.3 543.3C103.9 542.7 104.6 542.82 105.3 542.6C106 542.38 107.97 542.1 108.5 542" stroke="#555" stroke-width="0.55" fill="none"/>
<circle cx="108.5" cy="542" r="1.1" fill="#000"/>
<path d="M124.5 573.1C124.27 571.97 123.65 568.23 123.1 566.3C122.55 564.37 121.37 562.93 121.2 561.5C121.03 560.07 121.7 558.98 122.1 557.7C122.5 556.42 123.68 554.77 123.6 553.8C123.52 552.83 122.57 552.3 121.6 551.9C120.63 551.5 118.83 551.8 117.8 551.4C116.77 551 115.57 550.13 115.4 549.5C115.23 548.87 115.92 548.32 116.8 547.6C117.68 546.88 119.68 546.22 120.7 545.2C121.72 544.18 122.53 542.12 122.9 541.5" stroke="#555" stroke-width="0.55" fill="none"/>
<circle cx="122.9" cy="541.5" r="1.1" fill="#000"/>
<path d="M124.5 573.1C124.5 572.13 124.33 569.07 124.5 567.3C124.67 565.53 125.58 564.1 125.5 562.5C125.42 560.9 124 559.15 124 557.7C124 556.25 125.5 554.92 125.5 553.8C125.5 552.68 124 551.95 124 551C124 550.05 125.02 549.23 125.5 548.1C125.98 546.97 126.67 544.85 126.9 544.2" stroke="#555" stroke-width="0.55" fill="none"/>
<circle cx="126.9" cy="544.2" r="1.1" fill="#000"/>
<path d="M124.5 573.1C124.67 572.3 125.18 569.9 125.5 568.3C125.82 566.7 126 565.1 126.4 563.5C126.8 561.9 127.82 560.32 127.9 558.7C127.98 557.08 126.9 555.25 126.9 553.8C126.9 552.35 127.42 551.2 127.9 550C128.38 548.8 128.92 547.48 129.8 546.6C130.68 545.72 132.03 545.38 133.2 544.7C134.37 544.02 136.2 542.87 136.8 542.5" stroke="#555" stroke-width="0.55" fill="none"/>
<circle cx="136.8" cy="542.5" r="1.1" fill="#000"/>
<path d="M124.5 573.1C124.75 572.3 126 569.75 126 568.3C126 566.85 125.07 565.68 124.5 564.4C123.93 563.12 122.83 561.88 122.6 560.6C122.37 559.32 122.53 557.83 123.1 556.7C123.67 555.57 125.05 554.75 126 553.8C126.95 552.85 128 552.15 128.8 551C129.6 549.85 130.47 547.58 130.8 546.9" stroke="#555" stroke-width="0.55" fill="none"/>
<circle cx="130.8" cy="546.9" r="1.1" fill="#000"/>
<path d="M124.5 573.1C124.35 572.3 124.08 569.9 123.6 568.3C123.12 566.7 122.33 565.1 121.6 563.5C120.87 561.9 120.15 560.32 119.2 558.7C118.25 557.08 116.93 555.28 115.9 553.8C114.87 552.32 113.48 550.47 113 549.8" stroke="#555" stroke-width="0.55" fill="none"/>
<circle cx="113" cy="549.8" r="1.1" fill="#000"/>
<path d="M124.5 573.1C124.75 573.42 125.28 574.77 126 575C126.72 575.23 127.68 575.13 128.8 574.5C129.92 573.87 131.82 572.32 132.7 571.2C133.58 570.08 134.27 568.68 134.1 567.8C133.93 566.92 132.58 566.62 131.7 565.9C130.82 565.18 129.12 564.55 128.8 563.5C128.48 562.45 129.23 560.88 129.8 559.6C130.37 558.32 131.32 557.12 132.2 555.8C133.08 554.48 134.62 552.38 135.1 551.7" stroke="#555" stroke-width="0.55" fill="none"/>
<circle cx="135.1" cy="551.7" r="1.1" fill="#000"/>
<path d="M274.6 574.2C274.37 573.75 273.27 572.45 273.2 571.5C273.13 570.55 274.37 569.5 274.2 568.5C274.03 567.5 272.93 566.17 272.2 565.5C271.47 564.83 270.53 565 269.8 564.5C269.07 564 268.07 563.22 267.8 562.5C267.53 561.78 268.03 560.95 268.2 560.2C268.37 559.45 268.7 558.37 268.8 558" stroke="#222" stroke-width="0.7" fill="none"/>
<circle cx="268.8" cy="558" r="1.1" fill="#000"/>
<path d="M274.6 574.2C274.73 573.58 275.57 571.7 275.4 570.5C275.23 569.3 273.7 568.17 273.6 567C273.5 565.83 274.87 564.5 274.8 563.5C274.73 562.5 273.38 561.83 273.2 561C273.02 560.17 273.62 558.92 273.7 558.5" stroke="#222" stroke-width="0.7" fill="none"/>
<circle cx="273.7" cy="558.5" r="1.1" fill="#000"/>
<path d="M274.6 574.2C274.4 573.75 273.33 572.45 273.4 571.5C273.47 570.55 274.93 569.58 275 568.5C275.07 567.42 274 565.58 273.8 565" stroke="#222" stroke-width="0.7" fill="none"/>
<circle cx="273.8" cy="565" r="1.1" fill="#000"/>
<path d="M274.6 574.2C274.25 574 273.27 573.1 272.5 573C271.73 572.9 270.85 573.67 270 573.6C269.15 573.53 267.93 573 267.4 572.6C266.87 572.2 267.07 571.57 266.8 571.2C266.53 570.83 265.97 570.53 265.8 570.4" stroke="#222" stroke-width="0.7" fill="none"/>
<circle cx="265.8" cy="570.4" r="1.1" fill="#000"/>
<path d="M274.6 574.2C274.8 573.83 275.8 572.67 275.8 572C275.8 571.33 274.98 570.78 274.6 570.2C274.22 569.62 273.68 568.78 273.5 568.5" stroke="#222" stroke-width="0.7" fill="none"/>
<circle cx="273.5" cy="568.5" r="1.1" fill="#000"/>
<path d="M274.6 574.2C274.87 574 275.8 573.5 276.2 573C276.6 572.5 276.57 571.57 277 571.2C277.43 570.83 278.5 570.87 278.8 570.8" stroke="#222" stroke-width="0.7" fill="none"/>
<circle cx="278.8" cy="570.8" r="1.1" fill="#000"/>
<path d="M274.6 574.2C274.83 574.33 275.8 575.1 276 575C276.2 574.9 275.97 573.8 275.8 573.6C275.63 573.4 275.13 573.77 275 573.8" stroke="#222" stroke-width="0.7" fill="none"/>
<circle cx="275" cy="573.8" r="1.1" fill="#000"/>
<path d="M274.6 574.2C274.47 574.43 274.13 575.4 273.8 575.6C273.47 575.8 272.73 575.57 272.6 575.4C272.47 575.23 272.93 574.73 273 574.6" stroke="#222" stroke-width="0.7" fill="none"/>
<circle cx="273" cy="574.6" r="1.1" fill="#000"/>
<path d="M274.6 574.2C274.23 573.58 273 571.7 272.4 570.5C271.8 569.3 271.37 568.17 271 567C270.63 565.83 270.12 564.47 270.2 563.5C270.28 562.53 270.93 561.42 271.5 561.2C272.07 560.98 272.92 561.57 273.6 562.2C274.28 562.83 275.17 563.95 275.6 565C276.03 566.05 276.27 567.42 276.2 568.5C276.13 569.58 275.57 570.78 275.2 571.5C274.83 572.22 274.2 572.58 274 572.8" stroke="#222" stroke-width="0.7" fill="none"/>
<circle cx="274" cy="572.8" r="1.1" fill="#000"/>
<path d="M274.6 574.2C274.33 573.93 273.4 573.27 273 572.6C272.6 571.93 272 570.73 272.2 570.2C272.4 569.67 273.5 569.33 274.2 569.4C274.9 569.47 276.13 570.03 276.4 570.6C276.67 571.17 276.17 572.3 275.8 572.8C275.43 573.3 274.47 573.47 274.2 573.6" stroke="#222" stroke-width="0.7" fill="none"/>
<circle cx="274.2" cy="573.6" r="1.1" fill="#000"/>
<path d="M273.2 567.5C273.53 567.35 274.73 566.42 275.2 566.6C275.67 566.78 276.13 567.97 276 568.6C275.87 569.23 274.9 570.3 274.4 570.4C273.9 570.5 273.23 569.4 273 569.2" stroke="#222" stroke-width="0.7" fill="none"/>
<circle cx="273" cy="569.2" r="1.1" fill="#000"/>
</svg>
</body>
</html>
